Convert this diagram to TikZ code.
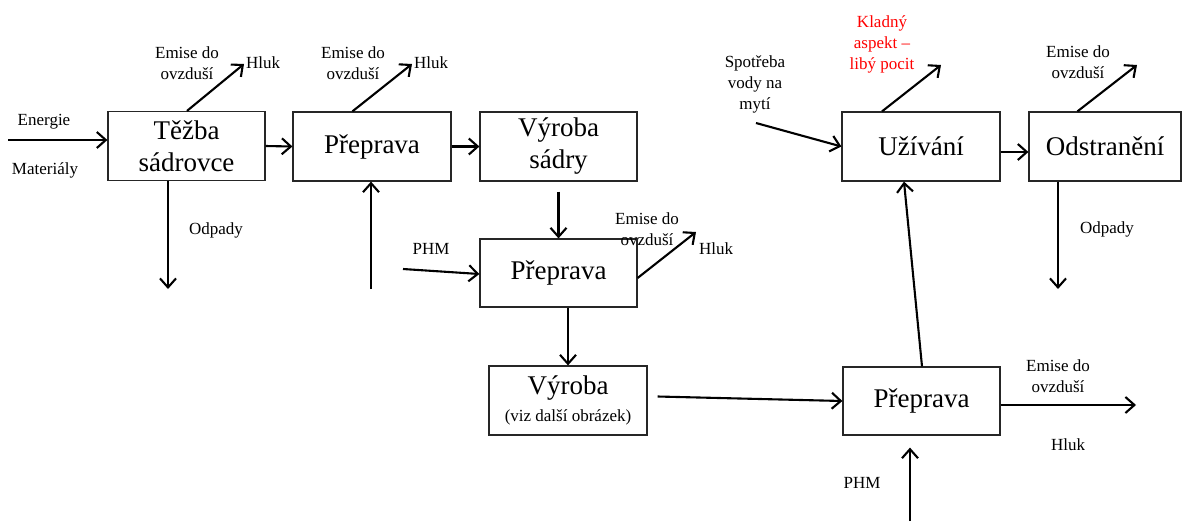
\documentclass[tikz,border=0pt]{standalone}
\usepackage{fontspec}
\setmainfont{Liberation Serif}
\usetikzlibrary{arrows.meta}
\tikzset{
  box/.style={draw=black!85, line width=1.2pt, inner sep=0pt, minimum width=157pt, minimum height=69pt, align=center, font=\fontsize{27}{32}\selectfont},
  lbl/.style={align=center, inner sep=0pt, font=\fontsize{17}{21}\selectfont},
  arr/.style={line width=2.1pt, -{Straight Barb[length=9pt,width=16pt,line width=2.1pt]}}
}
\begin{document}
\begin{tikzpicture}[x=1pt,y=-1pt]
\useasboundingbox (0,0) rectangle (1183,523);
% boxes
\node[box] (teba) at (186.5,146) {Těžba\\sádrovce};
\node[box, minimum width=158pt] (prep1) at (372,146.5) {Přeprava};
\node[box] (vsad) at (558.5,146.5) {Výroba\\sádry};
\node[box, minimum height=68pt] (prep2) at (558.5,273) {Přeprava};
\node[box, minimum width=158pt] (vyr) at (568,400.5) {Výroba\\[-5pt]{\fontsize{17}{21}\selectfont (viz další obrázek)}};
\node[box, minimum height=68pt] (prep3) at (921.5,401) {Přeprava};
\node[box, minimum width=158pt] (uziv) at (921,146.5) {Užívání};
\node[box, minimum width=152pt] (odst) at (1105,146.5) {Odstranění};
% labels
\node[lbl] (lenerg) at (44,122) {Energie};
\node[lbl] (lmat) at (45,170) {Materiály};
\node[lbl] (lem1) at (187,63) {Emise do\\ovzduší};
\node[lbl] (lh1) at (263,63) {Hluk};
\node[lbl] (lod1) at (216,230) {Odpady};
\node[lbl] (lem2) at (353,63) {Emise do\\ovzduší};
\node[lbl] (lh2) at (431,63) {Hluk};
\node[lbl] (lphm1) at (431,249) {PHM};
\node[lbl] (lem3) at (647,229) {Emise do\\ovzduší};
\node[lbl] (lh3) at (716,249) {Hluk};
\node[lbl] (lspot) at (755,84) {Spotřeba\\vody na\\mytí};
\node[lbl, text=red] (lklad) at (882,44) {Kladný\\aspekt –\\libý pocit};
\node[lbl] (lem4) at (1078,62) {Emise do\\ovzduší};
\node[lbl] (lod2) at (1107,229) {Odpady};
\node[lbl] (lem5) at (1058,376) {Emise do\\ovzduší};
\node[lbl] (lh5) at (1068,445) {Hluk};
\node[lbl] (lphm3) at (862,483) {PHM};
% free ends
\coordinate (e1) at (8,140);
\coordinate (h1) at (244,64);
\coordinate (d1) at (168,289);
\coordinate (h2) at (412,64);
\coordinate (u1) at (371,289);
\coordinate (p1) at (403,269);
\coordinate (h3) at (696,232);
\coordinate (h5) at (1136,405);
\coordinate (u3) at (910,521);
\coordinate (sp) at (756,123);
\coordinate (kl) at (941,65);
\coordinate (h4) at (1137,65);
\coordinate (d2) at (1058,289);
% connectors
\draw[arr] (e1) -- (teba.west |- e1);
\draw[arr] ([xshift=0.5pt]teba.north) -- (h1);
\draw[arr] (teba.east) -- (prep1.west);
\draw[arr] (teba.south -| d1) -- (d1);
\draw[arr] ([xshift=60pt]prep1.north west) -- (h2);
\draw[arr] (prep1.east) -- (vsad.west);
\draw[arr] (u1) -- (u1 |- prep1.south);
\draw[arr] ([yshift=-10pt]vsad.south) -- (prep2.north);
\draw[arr] (p1) -- ([yshift=-1pt]prep2.west);
\draw[arr] ([yshift=-5pt]prep2.east) -- (h3);
\draw[arr] (prep2.south -| vyr.north) -- (vyr.north);
\draw[arr] ([xshift=10pt,yshift=4pt]vyr.east) -- (prep3.west);
\draw[arr] ([xshift=0.5pt]prep3.north) -- ([xshift=-17pt]uziv.south);
\draw[arr] ([yshift=-4pt]prep3.east) -- (h5);
\draw[arr] (u3) -- ([yshift=-12pt]prep3.south -| u3);
\draw[arr] (sp) -- (uziv.west);
\draw[arr] ([xshift=-39pt]uziv.north) -- (kl);
\draw[arr] ([yshift=-5.5pt]uziv.east) -- ([yshift=-5.5pt]odst.west);
\draw[arr] ([xshift=49pt]odst.north west) -- (h4);
\draw[arr] (odst.south -| d2) -- (d2);
\end{tikzpicture}
\end{document}
